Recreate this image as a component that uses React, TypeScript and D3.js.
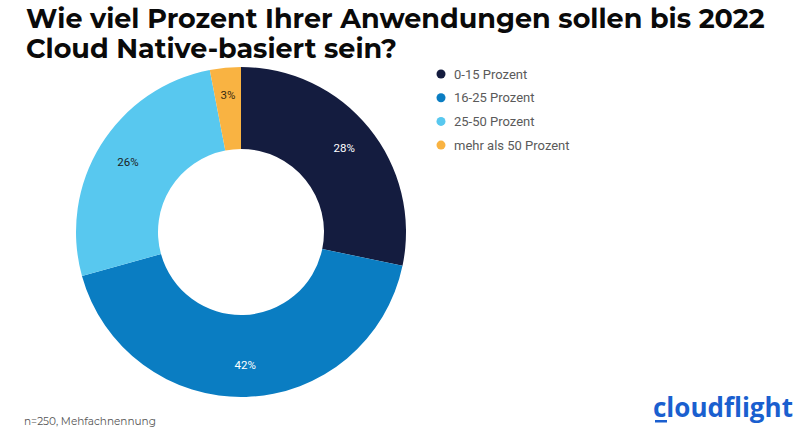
import { useRef, useEffect } from 'react'
import * as d3 from 'd3'

const categories = ['0-15 Prozent', '16-25 Prozent', '25-50 Prozent', 'mehr als 50 Prozent']
const shares = [28, 42, 26, 3]
const colors = ['#141c3f', '#0a7dc2', '#58c8ef', '#f9b342']
const labelColors = ['#ffffff', '#ffffff', '#1d1d1d', '#3a2a10']

const App = () => {
    const svgRef = useRef<SVGSVGElement>(null)

    useEffect(() => {
        const width = 800
        const height = 431
        const svg = d3.select(svgRef.current)
        svg.selectAll('*').remove()

        svg.append('rect').attr('width', width).attr('height', height).attr('fill', '#ffffff')

        // Titel
        const title = svg.append('text')
            .attr('x', 26)
            .attr('font-family', 'Montserrat, "Open Sans", sans-serif')
            .attr('font-weight', 'bold')
            .attr('font-size', '27px')
            .attr('fill', '#0a0a0a')
        title.append('tspan').attr('x', 26).attr('y', 28).text('Wie viel Prozent Ihrer Anwendungen sollen bis 2022')
        title.append('tspan').attr('x', 26).attr('y', 58).text('Cloud Native-basiert sein?')

        // Donut
        const cx = 241, cy = 232
        const outerR = 165, innerR = 83
        const pie = d3.pie<number>().sort(null).value(d => d)
        const arcs = pie(shares)
        const arc = d3.arc<d3.PieArcDatum<number>>().innerRadius(innerR).outerRadius(outerR)

        const g = svg.append('g').attr('transform', `translate(${cx}, ${cy})`)
        g.selectAll('path')
            .data(arcs)
            .join('path')
            .attr('d', arc)
            .attr('fill', (d, i) => colors[i])

        g.selectAll('text')
            .data(arcs)
            .join('text')
            .attr('transform', d => {
                const a = (d.startAngle + d.endAngle) / 2
                const r = d.data < 10 ? outerR - 27 : 133
                return `translate(${Math.sin(a) * r}, ${-Math.cos(a) * r})`
            })
            .attr('text-anchor', 'middle')
            .attr('dy', '0.35em')
            .attr('font-family', 'Roboto, sans-serif')
            .attr('font-size', '11.5px')
            .attr('fill', (d, i) => labelColors[i])
            .text(d => d.data + '%')

        // Legende
        const legend = svg.append('g').attr('transform', 'translate(441, 74)')
        const items = legend.selectAll('g')
            .data(categories)
            .join('g')
            .attr('transform', (d, i) => `translate(0, ${i * 23.7})`)
        items.append('circle').attr('r', 4.5).attr('fill', (d, i) => colors[i])
        items.append('text')
            .attr('x', 13)
            .attr('dy', '0.35em')
            .attr('font-family', 'Roboto, sans-serif')
            .attr('font-size', '13px')
            .attr('fill', '#5a5a5a')
            .text(d => d)

        // Fußnote
        svg.append('text')
            .attr('x', 24)
            .attr('y', 425)
            .attr('font-family', 'Montserrat, "Open Sans", sans-serif')
            .attr('font-size', '10.5px')
            .attr('fill', '#555555')
            .text('n=250, Mehfachnennung')

        // Logo
        svg.append('text')
            .attr('x', 653)
            .attr('y', 417)
            .attr('font-family', '"Open Sans", sans-serif')
            .attr('font-weight', 'bold')
            .attr('font-size', '26px')
            .attr('fill', '#1a5fcf')
            .text('cloudflight')
        svg.append('rect').attr('x', 655).attr('y', 420).attr('width', 12).attr('height', 2.5).attr('fill', '#1a5fcf')
    }, [])

    return (
        <svg ref={svgRef} width={800} height={431}
            style={{ position: 'absolute', left: 0, top: 0, display: 'block' }} />
    )
}

export default App
